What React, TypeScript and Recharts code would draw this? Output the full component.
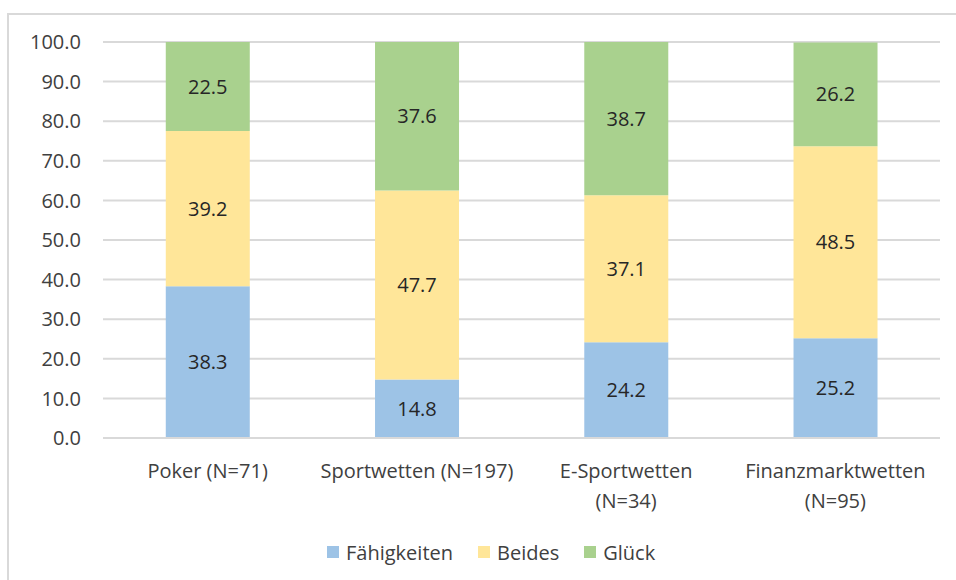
import React from "react";
import { BarChart, Bar, XAxis, YAxis, CartesianGrid, LabelList } from "recharts";

const categories = ["Poker (N=71)", "Sportwetten (N=197)", "E-Sportwetten (N=34)", "Finanzmarktwetten (N=95)"];
const faehigkeiten = [38.3, 14.8, 24.2, 25.2];
const beides = [39.2, 47.7, 37.1, 48.5];
const glueck = [22.5, 37.6, 38.7, 26.2];
const yTicks = [0, 10, 20, 30, 40, 50, 60, 70, 80, 90, 100];

const seriesNames = ["Fähigkeiten", "Beides", "Glück"];
const colors = ["#9DC3E6", "#FFE699", "#A9D18E"];

const data = categories.map((c, i) => ({
  name: c,
  f: faehigkeiten[i],
  b: beides[i],
  g: glueck[i],
}));

const FONT = "'Open Sans', 'Noto Sans', sans-serif";
const FS = 20;

const XTick = (props: any) => {
  const { x, y, payload } = props;
  const text: string = payload.value;
  const lines = text.length > 19 ? [text.slice(0, text.indexOf(" (")), text.slice(text.indexOf(" (") + 1)] : [text];
  return (
    <g>
      {lines.map((l, i) => (
        <text key={i} x={x} y={y + 32 + i * 30} textAnchor="middle" fill="#404040" fontSize={FS} fontFamily={FONT}>
          {l}
        </text>
      ))}
    </g>
  );
};

const fmt = (v: any) => Number(v).toFixed(1);

export default function App() {
  return (
    <div style={{ position: "fixed", left: 0, top: 0, width: 956, height: 580, overflow: "hidden", background: "#fff" }}>
      <div style={{ position: "absolute", left: 7, top: 13, width: 1000, height: 1000, border: "2px solid #d9d9d9", boxSizing: "border-box" }} />
      <div style={{ position: "absolute", left: 0, top: 0 }}>
        <BarChart
          width={956}
          height={580}
          data={data}
          margin={{ top: 42, right: 16, bottom: 112, left: 0 }}
          barCategoryGap="30%"
        >
          <CartesianGrid vertical={false} stroke="#d9d9d9" strokeWidth={2} />
          <YAxis
            domain={[0, 100]}
            ticks={yTicks}
            allowDataOverflow
            width={103}
            axisLine={false}
            tickLine={false}
            tickMargin={16}
            tickFormatter={fmt}
            tick={{ fill: "#404040", fontSize: FS, fontFamily: FONT }}
          />
          <XAxis
            dataKey="name"
            axisLine={{ stroke: "#d9d9d9", strokeWidth: 2 }}
            tickLine={false}
            tick={<XTick />}
            interval={0}
          />
          <Bar dataKey="f" stackId="a" fill={colors[0]} isAnimationActive={false}>
            <LabelList dataKey="f" position="center" formatter={fmt} fill="#262626" fontSize={FS} fontFamily={FONT} />
          </Bar>
          <Bar dataKey="b" stackId="a" fill={colors[1]} isAnimationActive={false}>
            <LabelList dataKey="b" position="center" formatter={fmt} fill="#262626" fontSize={FS} fontFamily={FONT} />
          </Bar>
          <Bar dataKey="g" stackId="a" fill={colors[2]} isAnimationActive={false}>
            <LabelList dataKey="g" position="center" formatter={fmt} fill="#262626" fontSize={FS} fontFamily={FONT} />
          </Bar>
        </BarChart>
      </div>
      <div style={{ position: "absolute", left: 327, top: 538, height: 28, display: "flex", alignItems: "center", fontFamily: FONT, fontSize: FS, color: "#404040" }}>
        {seriesNames.map((n, i) => (
          <div key={n} style={{ display: "flex", alignItems: "center", marginRight: i < 2 ? 25 : 0 }}>
            <span style={{ display: "inline-block", width: 12, height: 12, background: colors[i], marginRight: 7 }} />
            <span>{n}</span>
          </div>
        ))}
      </div>
    </div>
  );
}
